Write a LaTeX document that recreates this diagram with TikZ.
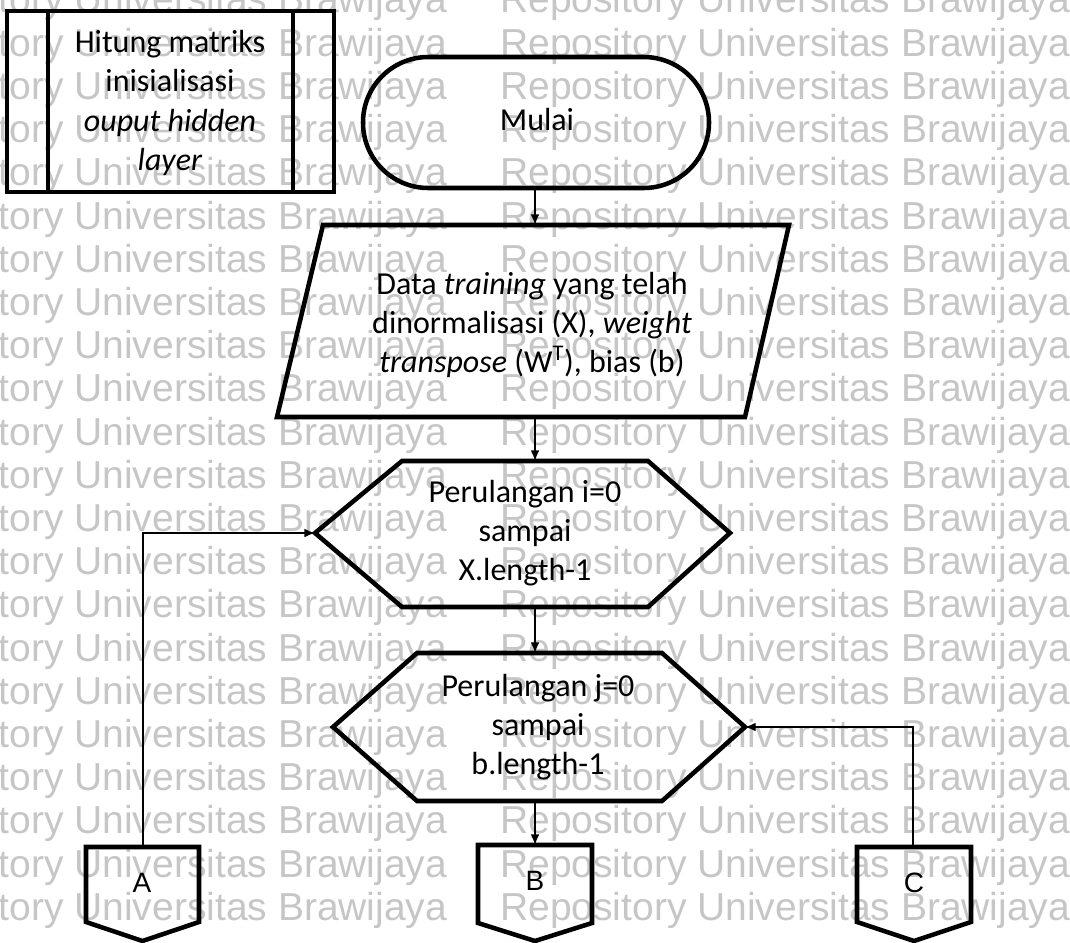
\documentclass[tikz,border=0pt]{standalone}
\usepackage{fontspec}
\setmainfont{Carlito}
\newfontfamily\wmfont{Liberation Sans}
\usetikzlibrary{arrows.meta}
\definecolor{wmgray}{RGB}{198,198,198}
\tikzset{
  outline/.style={line width=3.4pt, line join=miter},
  flow/.style={line width=1pt, -{Latex[length=8pt,width=6.5pt]}},
  label/.style={align=center, inner sep=0pt, font=\fontsize{24}{29.5}\selectfont},
  connlabel/.style={inner sep=0pt, font=\wmfont\fontsize{21}{24}\selectfont},
  wmark/.style={anchor=base west, inner sep=0pt, text=wmgray, font=\wmfont\fontsize{29.25}{30}\selectfont},
}
\begin{document}
\begin{tikzpicture}[x=0.75pt,y=-0.75pt]
\useasboundingbox (0,0) rectangle (1070,942);

% background repository watermark
\begin{scope}
  \clip (0,0) rectangle (1070,942);
  \foreach \k in {0,...,21} {
    \node[wmark] (wmL\k) at (-123,13+43.2*\k) {Repository Universitas Brawijaya};
    \node[wmark] (wmR\k) at (500,13+43.2*\k) {Repository Universitas Brawijaya};
  }
\end{scope}

% predefined process
\draw[outline] (7,11) rectangle (334,192);
\draw[outline] (48,11) -- (48,192) (293,11) -- (293,192);
\node[label] (proc) at (170,103) {Hitung matriks\\inisialisasi\\\textit{ouput hidden}\\\textit{layer}};

% start terminal
\draw[outline, rounded corners=49pt] (363,57) rectangle (709,188);
\node[label] (start) at (537,120) {Mulai};
\coordinate (startS) at (535,188);

% input data
\draw[outline] (323,225) -- (789,225) -- (745,417) -- (277,417) -- cycle;
\node[label] (input) at (532,325) {Data \textit{training} yang telah\\dinormalisasi (X), \textit{weight}\\\textit{transpose} (W\textsuperscript{T}), bias (b)};
\coordinate (inN) at (535,225);
\coordinate (inS) at (535,417);

% loop over i
\draw[outline] (402,461) -- (648,461) -- (730,533) -- (648,607) -- (402,607) -- (315,533) -- cycle;
\node[label] (loopi) at (525,533) {Perulangan i=0\\sampai\\X.length-1};
\coordinate (iN) at (535,461);
\coordinate (iS) at (535,607);
\coordinate (iW) at (315,533);

% loop over j
\draw[outline] (417,653) -- (662,653) -- (745,727) -- (662,801) -- (417,801) -- (333,727) -- cycle;
\node[label] (loopj) at (538,727) {Perulangan j=0\\sampai\\b.length-1};
\coordinate (jN) at (535,653);
\coordinate (jS) at (535,801);
\coordinate (jE) at (745,727);

% off-page connectors
\draw[outline] (86,847) -- (199,847) -- (199,922) -- (142.5,941) -- (86,922) -- cycle;
\node[connlabel] (conA) at (142,883) {A};
\coordinate (aN) at (143,847);

\draw[outline] (478,845) -- (592,845) -- (592,923) -- (535,941) -- (478,923) -- cycle;
\node[connlabel] (conB) at (535,881) {B};
\coordinate (bN) at (535,845);

\draw[outline] (857,847) -- (971,847) -- (971,922) -- (914,941) -- (857,922) -- cycle;
\node[connlabel] (conC) at (914,883) {C};
\coordinate (cN) at (913,847);

% flow lines
\draw[flow] (startS) -- (inN);
\draw[flow] (inS) -- (iN);
\draw[flow] (iS) -- (jN);
\draw[flow] (jS) -- (bN);
\draw[flow] (aN) |- (iW);
\draw[flow] (cN) |- (jE);
\end{tikzpicture}
\end{document}
